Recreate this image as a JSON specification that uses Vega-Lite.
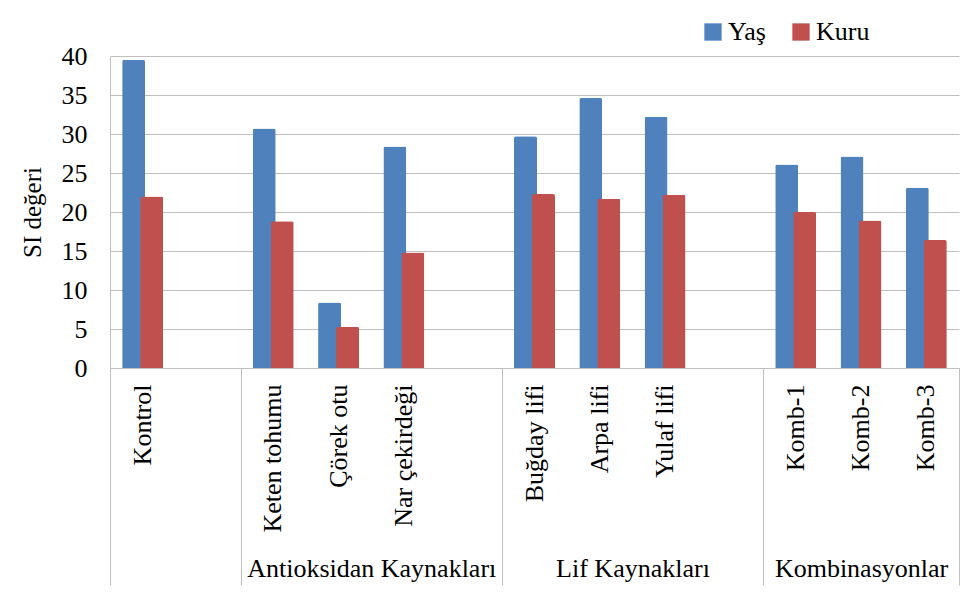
{
  "$schema": "https://vega.github.io/schema/vega-lite/v6.json",
  "width": 849,
  "height": 312,
  "autosize": {"type": "none"},
  "padding": {"left": 110, "top": 56, "right": 17, "bottom": 240},
  "background": "white",
  "config": {
    "view": {"stroke": null},
    "font": "Liberation Serif",
    "axis": {"titleFont": "Liberation Serif", "labelFont": "Liberation Serif", "titleFontSize": 25, "titleFontWeight": "normal", "titleColor": "black"},
    "legend": {"labelFont": "Liberation Serif", "labelFontSize": 26, "labelColor": "black"}
  },
  "datasets": {
    "values": [
      {"item": "Kontrol", "series": "Yaş", "value": 39.5},
      {"item": "Kontrol", "series": "Kuru", "value": 22.0},
      {"item": "Keten tohumu", "series": "Yaş", "value": 30.7},
      {"item": "Keten tohumu", "series": "Kuru", "value": 18.8},
      {"item": "Çörek otu", "series": "Yaş", "value": 8.4},
      {"item": "Çörek otu", "series": "Kuru", "value": 5.3},
      {"item": "Nar çekirdeği", "series": "Yaş", "value": 28.4},
      {"item": "Nar çekirdeği", "series": "Kuru", "value": 14.8},
      {"item": "Buğday lifi", "series": "Yaş", "value": 29.7},
      {"item": "Buğday lifi", "series": "Kuru", "value": 22.3},
      {"item": "Arpa lifi", "series": "Yaş", "value": 34.6},
      {"item": "Arpa lifi", "series": "Kuru", "value": 21.7},
      {"item": "Yulaf lifi", "series": "Yaş", "value": 32.2},
      {"item": "Yulaf lifi", "series": "Kuru", "value": 22.2},
      {"item": "Komb-1", "series": "Yaş", "value": 26.1},
      {"item": "Komb-1", "series": "Kuru", "value": 20.0},
      {"item": "Komb-2", "series": "Yaş", "value": 27.1},
      {"item": "Komb-2", "series": "Kuru", "value": 18.9},
      {"item": "Komb-3", "series": "Yaş", "value": 23.1},
      {"item": "Komb-3", "series": "Kuru", "value": 16.4}
    ],
    "groups": [
      {"group": "Antioksidan Kaynakları", "pos": 4},
      {"group": "Lif Kaynakları", "pos": 8},
      {"group": "Kombinasyonlar", "pos": 11.5}
    ],
    "bounds": [
      {"b": 0}, {"b": 2}, {"b": 6}, {"b": 10}, {"b": 13}
    ]
  },
  "layer": [
    {
      "data": {"name": "values"},
      "transform": [{"filter": "datum.series === 'Yaş'"}],
      "mark": {"type": "bar", "width": 23, "xOffset": -9, "cornerRadiusTopLeft": 2, "cornerRadiusTopRight": 2},
      "encoding": {
        "x": {
          "field": "item", "type": "nominal", "sort": null,
          "scale": {"domain": ["Kontrol", "_1", "Keten tohumu", "Çörek otu", "Nar çekirdeği", "_2", "Buğday lifi", "Arpa lifi", "Yulaf lifi", "_3", "Komb-1", "Komb-2", "Komb-3"], "paddingInner": 0, "paddingOuter": 0},
          "axis": {
            "title": null, "orient": "bottom", "ticks": false, "labelAngle": 270, "labelAlign": "right", "labelBaseline": "middle",
            "labelPadding": 16, "labelFontSize": 26, "labelFont": "Liberation Serif", "labelColor": "black",
            "labelExpr": "indexof(datum.label, '_') == 0 ? '' : datum.label",
            "domainColor": "#bfbfbf", "domainWidth": 1, "grid": false, "labelLimit": 300
          }
        },
        "y": {
          "field": "value", "type": "quantitative",
          "scale": {"domain": [0, 40], "nice": false},
          "axis": {
            "title": "SI değeri", "values": [0, 5, 10, 15, 20, 25, 30, 35, 40], "grid": true, "gridColor": "#bfbfbf",
            "ticks": false, "labelPadding": 23, "labelFontSize": 26, "labelFont": "Liberation Serif", "labelColor": "black",
            "titleFontSize": 25, "titleFont": "Liberation Serif", "titleFontWeight": "normal", "titleColor": "black", "titlePadding": 16,
            "domainColor": "#bfbfbf"
          }
        },
        "color": {
          "field": "series", "type": "nominal",
          "scale": {"domain": ["Yaş", "Kuru"], "range": ["#4f81bd", "#c0504d"]},
          "legend": {
            "orient": "none", "legendX": 590, "legendY": -37, "direction": "horizontal", "title": null,
            "symbolType": "square", "symbolSize": 300, "symbolStrokeWidth": 0, "labelFontSize": 26,
            "labelFont": "Liberation Serif", "labelColor": "black", "columnPadding": 22, "labelOffset": 2, "padding": 0
          }
        }
      }
    },
    {
      "data": {"name": "values"},
      "transform": [{"filter": "datum.series === 'Kuru'"}],
      "mark": {"type": "bar", "width": 23, "xOffset": 9, "cornerRadiusTopLeft": 2, "cornerRadiusTopRight": 2},
      "encoding": {
        "x": {
          "field": "item", "type": "nominal", "sort": null,
          "scale": {"domain": ["Kontrol", "_1", "Keten tohumu", "Çörek otu", "Nar çekirdeği", "_2", "Buğday lifi", "Arpa lifi", "Yulaf lifi", "_3", "Komb-1", "Komb-2", "Komb-3"], "paddingInner": 0, "paddingOuter": 0},
          "axis": null
        },
        "y": {
          "field": "value", "type": "quantitative",
          "scale": {"domain": [0, 40], "nice": false},
          "axis": {
            "title": "SI değeri", "values": [0, 5, 10, 15, 20, 25, 30, 35, 40], "grid": true, "gridColor": "#bfbfbf",
            "ticks": false, "labelPadding": 23, "labelFontSize": 26, "labelFont": "Liberation Serif", "labelColor": "black",
            "titleFontSize": 25, "titleFont": "Liberation Serif", "titleFontWeight": "normal", "titleColor": "black", "titlePadding": 16,
            "domainColor": "#bfbfbf"
          }
        },
        "color": {
          "field": "series", "type": "nominal",
          "scale": {"domain": ["Yaş", "Kuru"], "range": ["#4f81bd", "#c0504d"]},
          "legend": {
            "orient": "none", "legendX": 590, "legendY": -37, "direction": "horizontal", "title": null,
            "symbolType": "square", "symbolSize": 300, "symbolStrokeWidth": 0, "labelFontSize": 26,
            "labelFont": "Liberation Serif", "labelColor": "black", "columnPadding": 22, "labelOffset": 2, "padding": 0
          }
        }
      }
    },
    {
      "data": {"name": "groups"},
      "mark": {"type": "point", "opacity": 0},
      "encoding": {
        "x": {
          "field": "pos", "type": "quantitative",
          "scale": {"domain": [0, 13], "nice": false, "zero": false},
          "axis": {
            "orient": "bottom", "title": null, "values": [4, 8, 11.5], "ticks": false, "domain": false, "grid": false,
            "labelFlush": false, "labelOverlap": false, "labelPadding": 187, "labelFontSize": 26, "labelFont": "Liberation Serif", "labelColor": "black",
            "labelExpr": "datum.value == 4 ? 'Antioksidan Kaynakları' : datum.value == 8 ? 'Lif Kaynakları' : 'Kombinasyonlar'",
            "labelLimit": 400
          }
        }
      }
    },
    {
      "data": {"name": "bounds"},
      "mark": {"type": "point", "opacity": 0},
      "encoding": {
        "x": {
          "field": "b", "type": "quantitative",
          "scale": {"domain": [0, 13], "nice": false, "zero": false},
          "axis": {
            "orient": "bottom", "title": null, "values": [0, 2, 6, 10, 13], "ticks": true, "tickSize": 217, "tickColor": "#bfbfbf", "tickWidth": 1,
            "labels": false, "domain": false, "grid": false
          }
        }
      }
    }
  ],
  "resolve": {"scale": {"x": "independent"}, "axis": {"x": "independent"}}
}
